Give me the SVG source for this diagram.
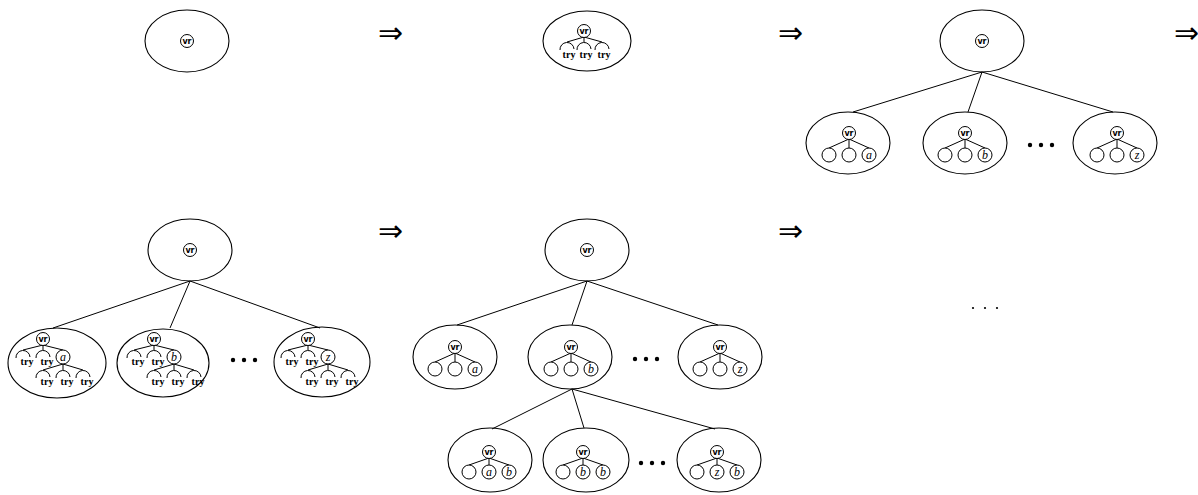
<svg xmlns="http://www.w3.org/2000/svg" width="1198" height="495" viewBox="0 0 1198 495">
<style>
.e{fill:none;stroke:#000;stroke-width:1.1}
.n{fill:#fff;stroke:#000;stroke-width:1}
.a{fill:none;stroke:#000;stroke-width:1}
.l{stroke:#000;stroke-width:1;fill:none}
.vr{font-family:"DejaVu Sans",sans-serif;font-weight:bold;font-size:8px;text-anchor:middle}
.try{font-family:"Liberation Serif",serif;font-weight:bold;font-size:10px;text-anchor:middle}
.lt{font-family:"Liberation Serif",serif;font-style:italic;font-size:12px;text-anchor:middle}
.arr{font-family:"DejaVu Sans",sans-serif;font-weight:200;font-size:30px;text-anchor:middle}
.d{fill:#000}
</style>
<rect width="1198" height="495" fill="#fff"/>

<g id="arrows">
<text class="arr" x="390" y="43">⇒</text>
<text class="arr" x="790" y="43">⇒</text>
<text class="arr" x="1186" y="43">⇒</text>
<text class="arr" x="390" y="241">⇒</text>
<text class="arr" x="790" y="241">⇒</text>
</g>

<g id="connectors">
<line class="l" x1="982" y1="72" x2="853" y2="112"/>
<line class="l" x1="982" y1="72" x2="968" y2="112"/>
<line class="l" x1="982" y1="72" x2="1113" y2="112"/>
<line class="l" x1="190" y1="281" x2="53" y2="328"/>
<line class="l" x1="190" y1="281" x2="170" y2="328"/>
<line class="l" x1="190" y1="281" x2="320" y2="328"/>
<line class="l" x1="587" y1="281" x2="457" y2="325"/>
<line class="l" x1="587" y1="281" x2="572" y2="325"/>
<line class="l" x1="587" y1="281" x2="718" y2="325"/>
<line class="l" x1="572" y1="389" x2="492" y2="429"/>
<line class="l" x1="572" y1="389" x2="584" y2="428"/>
<line class="l" x1="572" y1="389" x2="715" y2="429"/>
</g>

<g id="s1-root">
<ellipse class="e" cx="187" cy="41" rx="42" ry="31"/>
<circle class="n" cx="187" cy="41" r="6.5"/><text class="vr" x="187" y="44">vr</text>
</g>

<g id="s2-root">
<ellipse class="e" cx="587" cy="41" rx="44" ry="30"/>
<line class="l" x1="584" y1="37" x2="567" y2="42"/><line class="l" x1="584" y1="37" x2="584" y2="42"/><line class="l" x1="584" y1="37" x2="602" y2="42"/>
<circle class="n" cx="584" cy="31" r="6.5"/><text class="vr" x="584" y="34">vr</text>
<path class="a" d="M560 50 A7 7 0 0 1 574 49"/><text class="try" x="569" y="58">try</text>
<path class="a" d="M577 50 A7 7 0 0 1 591 49"/><text class="try" x="586" y="58">try</text>
<path class="a" d="M595 50 A7 7 0 0 1 609 49"/><text class="try" x="604" y="58">try</text>
</g>

<g id="s3-root">
<ellipse class="e" cx="982" cy="41" rx="42" ry="31"/>
<circle class="n" cx="982" cy="41" r="6.5"/><text class="vr" x="982" y="44">vr</text>
</g>
<g id="s3-a">
<ellipse class="e" cx="848" cy="143" rx="42" ry="31"/>
<line class="l" x1="849" y1="139" x2="829" y2="148"/><line class="l" x1="849" y1="139" x2="849" y2="148"/><line class="l" x1="849" y1="139" x2="869" y2="148"/>
<circle class="n" cx="849" cy="133" r="6.5"/><text class="vr" x="849" y="136">vr</text>
<circle class="n" cx="829" cy="155" r="7"/><circle class="n" cx="849" cy="155" r="7"/><circle class="n" cx="869" cy="155" r="7"/>
<text class="lt" x="869" y="159">a</text>
</g>
<g id="s3-b">
<ellipse class="e" cx="965" cy="143" rx="42" ry="31"/>
<line class="l" x1="965" y1="139" x2="945" y2="148"/><line class="l" x1="965" y1="139" x2="965" y2="148"/><line class="l" x1="965" y1="139" x2="985" y2="148"/>
<circle class="n" cx="965" cy="133" r="6.5"/><text class="vr" x="965" y="136">vr</text>
<circle class="n" cx="945" cy="155" r="7"/><circle class="n" cx="965" cy="155" r="7"/><circle class="n" cx="985" cy="155" r="7"/>
<text class="lt" x="985" y="159">b</text>
</g>
<g id="s3-dots"><circle class="d" cx="1030" cy="145" r="2.2"/><circle class="d" cx="1041" cy="145" r="2.2"/><circle class="d" cx="1052" cy="145" r="2.2"/></g>
<g id="s3-z">
<ellipse class="e" cx="1115" cy="143" rx="42" ry="31"/>
<line class="l" x1="1117" y1="139" x2="1097" y2="148"/><line class="l" x1="1117" y1="139" x2="1117" y2="148"/><line class="l" x1="1117" y1="139" x2="1137" y2="148"/>
<circle class="n" cx="1117" cy="133" r="6.5"/><text class="vr" x="1117" y="136">vr</text>
<circle class="n" cx="1097" cy="155" r="7"/><circle class="n" cx="1117" cy="155" r="7"/><circle class="n" cx="1137" cy="155" r="7"/>
<text class="lt" x="1137" y="159">z</text>
</g>

<g id="s4-root">
<ellipse class="e" cx="190" cy="250" rx="42" ry="31"/>
<circle class="n" cx="190" cy="250" r="6.5"/><text class="vr" x="190" y="253">vr</text>
</g>
<g id="s4-a">
<ellipse class="e" cx="57" cy="363" rx="49" ry="35"/>
<line class="l" x1="43" y1="345" x2="23" y2="350"/><line class="l" x1="43" y1="345" x2="43" y2="350"/><line class="l" x1="43" y1="345" x2="63" y2="350"/>
<line class="l" x1="63" y1="364" x2="43" y2="370"/><line class="l" x1="63" y1="364" x2="63" y2="370"/><line class="l" x1="63" y1="364" x2="83" y2="370"/>
<circle class="n" cx="43" cy="339" r="6.5"/><text class="vr" x="43" y="342">vr</text>
<path class="a" d="M16 358 A7 7 0 0 1 30 357"/><text class="try" x="27" y="365">try</text>
<path class="a" d="M36 358 A7 7 0 0 1 50 357"/><text class="try" x="47" y="365">try</text>
<circle class="n" cx="63" cy="357" r="7"/><text class="lt" x="63" y="361">a</text>
<path class="a" d="M36 378 A7 7 0 0 1 50 377"/><text class="try" x="47" y="385">try</text>
<path class="a" d="M56 378 A7 7 0 0 1 70 377"/><text class="try" x="67" y="385">try</text>
<path class="a" d="M76 378 A7 7 0 0 1 90 377"/><text class="try" x="87" y="385">try</text>
</g>
<g id="s4-b">
<ellipse class="e" cx="163" cy="363" rx="46" ry="34"/>
<line class="l" x1="154" y1="345" x2="134" y2="350"/><line class="l" x1="154" y1="345" x2="154" y2="350"/><line class="l" x1="154" y1="345" x2="174" y2="350"/>
<line class="l" x1="174" y1="364" x2="154" y2="370"/><line class="l" x1="174" y1="364" x2="174" y2="370"/><line class="l" x1="174" y1="364" x2="194" y2="370"/>
<circle class="n" cx="154" cy="339" r="6.5"/><text class="vr" x="154" y="342">vr</text>
<path class="a" d="M127 358 A7 7 0 0 1 141 357"/><text class="try" x="138" y="365">try</text>
<path class="a" d="M147 358 A7 7 0 0 1 161 357"/><text class="try" x="158" y="365">try</text>
<circle class="n" cx="174" cy="357" r="7"/><text class="lt" x="174" y="361">b</text>
<path class="a" d="M147 378 A7 7 0 0 1 161 377"/><text class="try" x="158" y="385">try</text>
<path class="a" d="M167 378 A7 7 0 0 1 181 377"/><text class="try" x="178" y="385">try</text>
<path class="a" d="M187 378 A7 7 0 0 1 201 377"/><text class="try" x="198" y="385">try</text>
</g>
<g id="s4-dots"><circle class="d" cx="233" cy="360" r="2.2"/><circle class="d" cx="244" cy="360" r="2.2"/><circle class="d" cx="255" cy="360" r="2.2"/></g>
<g id="s4-z">
<ellipse class="e" cx="322" cy="362" rx="48" ry="35"/>
<line class="l" x1="308" y1="345" x2="288" y2="350"/><line class="l" x1="308" y1="345" x2="308" y2="350"/><line class="l" x1="308" y1="345" x2="328" y2="350"/>
<line class="l" x1="328" y1="364" x2="308" y2="370"/><line class="l" x1="328" y1="364" x2="328" y2="370"/><line class="l" x1="328" y1="364" x2="348" y2="370"/>
<circle class="n" cx="308" cy="339" r="6.5"/><text class="vr" x="308" y="342">vr</text>
<path class="a" d="M281 358 A7 7 0 0 1 295 357"/><text class="try" x="292" y="365">try</text>
<path class="a" d="M301 358 A7 7 0 0 1 315 357"/><text class="try" x="312" y="365">try</text>
<circle class="n" cx="328" cy="357" r="7"/><text class="lt" x="328" y="361">z</text>
<path class="a" d="M301 378 A7 7 0 0 1 315 377"/><text class="try" x="312" y="385">try</text>
<path class="a" d="M321 378 A7 7 0 0 1 335 377"/><text class="try" x="332" y="385">try</text>
<path class="a" d="M341 378 A7 7 0 0 1 355 377"/><text class="try" x="352" y="385">try</text>
</g>

<g id="s5-root">
<ellipse class="e" cx="587" cy="250" rx="42" ry="31"/>
<circle class="n" cx="587" cy="250" r="6.5"/><text class="vr" x="587" y="253">vr</text>
</g>
<g id="s5-a">
<ellipse class="e" cx="455" cy="357" rx="42" ry="32"/>
<line class="l" x1="455" y1="353" x2="435" y2="362"/><line class="l" x1="455" y1="353" x2="455" y2="362"/><line class="l" x1="455" y1="353" x2="475" y2="362"/>
<circle class="n" cx="455" cy="347" r="6.5"/><text class="vr" x="455" y="350">vr</text>
<circle class="n" cx="435" cy="369" r="7"/><circle class="n" cx="455" cy="369" r="7"/><circle class="n" cx="475" cy="369" r="7"/>
<text class="lt" x="475" y="373">a</text>
</g>
<g id="s5-b">
<ellipse class="e" cx="570" cy="357" rx="42" ry="32"/>
<line class="l" x1="571" y1="353" x2="551" y2="362"/><line class="l" x1="571" y1="353" x2="571" y2="362"/><line class="l" x1="571" y1="353" x2="591" y2="362"/>
<circle class="n" cx="571" cy="347" r="6.5"/><text class="vr" x="571" y="350">vr</text>
<circle class="n" cx="551" cy="369" r="7"/><circle class="n" cx="571" cy="369" r="7"/><circle class="n" cx="591" cy="369" r="7"/>
<text class="lt" x="591" y="373">b</text>
</g>
<g id="s5-dots"><circle class="d" cx="635" cy="359" r="2.2"/><circle class="d" cx="646" cy="359" r="2.2"/><circle class="d" cx="657" cy="359" r="2.2"/></g>
<g id="s5-z">
<ellipse class="e" cx="720" cy="357" rx="42" ry="32"/>
<line class="l" x1="720" y1="353" x2="700" y2="362"/><line class="l" x1="720" y1="353" x2="720" y2="362"/><line class="l" x1="720" y1="353" x2="740" y2="362"/>
<circle class="n" cx="720" cy="347" r="6.5"/><text class="vr" x="720" y="350">vr</text>
<circle class="n" cx="700" cy="369" r="7"/><circle class="n" cx="720" cy="369" r="7"/><circle class="n" cx="740" cy="369" r="7"/>
<text class="lt" x="740" y="373">z</text>
</g>
<g id="s5-ba">
<ellipse class="e" cx="490" cy="460" rx="42" ry="32"/>
<line class="l" x1="489" y1="458" x2="469" y2="465"/><line class="l" x1="489" y1="458" x2="489" y2="465"/><line class="l" x1="489" y1="458" x2="509" y2="465"/>
<circle class="n" cx="489" cy="452" r="6.5"/><text class="vr" x="489" y="455">vr</text>
<circle class="n" cx="469" cy="472" r="7"/><circle class="n" cx="489" cy="472" r="7"/><circle class="n" cx="509" cy="472" r="7"/>
<text class="lt" x="489" y="476">a</text><text class="lt" x="509" y="476">b</text>
</g>
<g id="s5-bb">
<ellipse class="e" cx="586" cy="460" rx="43" ry="32"/>
<line class="l" x1="583" y1="458" x2="563" y2="465"/><line class="l" x1="583" y1="458" x2="583" y2="465"/><line class="l" x1="583" y1="458" x2="603" y2="465"/>
<circle class="n" cx="583" cy="452" r="6.5"/><text class="vr" x="583" y="455">vr</text>
<circle class="n" cx="563" cy="472" r="7"/><circle class="n" cx="583" cy="472" r="7"/><circle class="n" cx="603" cy="472" r="7"/>
<text class="lt" x="583" y="476">b</text><text class="lt" x="603" y="476">b</text>
</g>
<g id="s5-bdots"><circle class="d" cx="641" cy="463" r="2.2"/><circle class="d" cx="652" cy="463" r="2.2"/><circle class="d" cx="663" cy="463" r="2.2"/></g>
<g id="s5-bz">
<ellipse class="e" cx="719" cy="460" rx="42" ry="32"/>
<line class="l" x1="717" y1="458" x2="697" y2="465"/><line class="l" x1="717" y1="458" x2="717" y2="465"/><line class="l" x1="717" y1="458" x2="737" y2="465"/>
<circle class="n" cx="717" cy="452" r="6.5"/><text class="vr" x="717" y="455">vr</text>
<circle class="n" cx="697" cy="472" r="7"/><circle class="n" cx="717" cy="472" r="7"/><circle class="n" cx="737" cy="472" r="7"/>
<text class="lt" x="717" y="476">z</text><text class="lt" x="737" y="476">b</text>
</g>

<g id="ellipsis"><circle class="d" cx="973" cy="308" r="1.1"/><circle class="d" cx="985" cy="308" r="1.1"/><circle class="d" cx="997" cy="308" r="1.1"/></g>
</svg>
